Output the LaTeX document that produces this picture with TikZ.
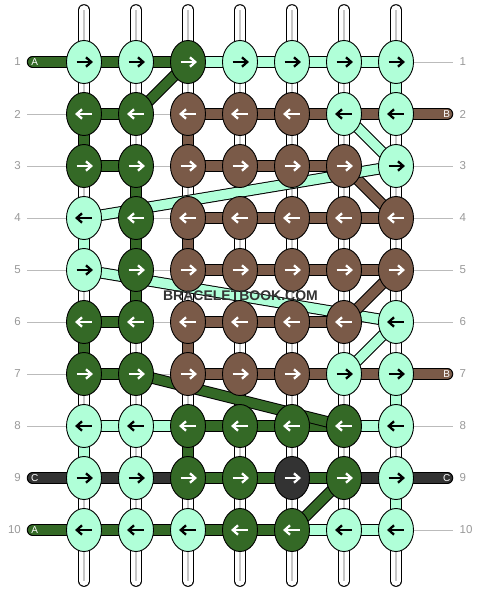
\documentclass[tikz,border=0pt]{standalone}
\usepackage{fontspec}
\setmainfont{Liberation Sans}
\usetikzlibrary{shapes.geometric}
\definecolor{mint}{HTML}{B0FFD8}
\definecolor{dgreen}{HTML}{346926}
\definecolor{brn}{HTML}{7A5A48}
\definecolor{dgray}{HTML}{333333}
\definecolor{lbl}{HTML}{999999}
\definecolor{rowln}{HTML}{BBBBBB}
\pgfdeclarelayer{lines}
\pgfdeclarelayer{warps}
\pgfdeclarelayer{threads}
\pgfsetlayers{lines,warps,threads,main}
\tikzset{
  knot/.style={ellipse, draw=black, line width=0.9pt, minimum width=35pt, minimum height=43pt, inner sep=0pt},
  rarr/.style={path picture={
    \coordinate (pc) at (path picture bounding box.center);
    \draw[#1, line width=2.3pt] ([xshift=-7.5pt]pc) -- ([xshift=6.5pt]pc);
    \draw[#1, line width=2.3pt, line join=miter] ([xshift=2pt,yshift=4.7pt]pc) -- ([xshift=7.2pt]pc) -- ([xshift=2pt,yshift=-4.7pt]pc);}},
  larr/.style={path picture={
    \coordinate (pc) at (path picture bounding box.center);
    \draw[#1, line width=2.3pt] ([xshift=7.5pt]pc) -- ([xshift=-6.5pt]pc);
    \draw[#1, line width=2.3pt, line join=miter] ([xshift=-2pt,yshift=4.7pt]pc) -- ([xshift=-7.2pt]pc) -- ([xshift=-2pt,yshift=-4.7pt]pc);}},
  MR/.style={knot, fill=mint, rarr=black},
  ML/.style={knot, fill=mint, larr=black},
  GR/.style={knot, fill=dgreen, rarr=white},
  GL/.style={knot, fill=dgreen, larr=white},
  BR/.style={knot, fill=brn, rarr=white},
  BL/.style={knot, fill=brn, larr=white},
  KR/.style={knot, fill=dgray, rarr=white},
  KL/.style={knot, fill=dgray, larr=white},
  thr/.style={draw=black, line width=1pt, double=#1, double distance=9.5pt},
  warp/.style={draw=black, line width=1pt, double=white, double distance=9.7pt, line cap=round},
  warpmid/.style={draw=black!22, line width=1.1pt},
  rowline/.style={draw=rowln, line width=1pt},
  rownum/.style={text=lbl, font=\fontsize{11.5}{12}\selectfont, inner sep=0pt},
  endlbl/.style={text=white, font=\fontsize{10}{12}\selectfont, inner sep=0pt},
  wmark/.style={text=dgray, font=\bfseries\fontsize{14}{14}\selectfont, inner sep=0pt}
}
\newcommand\knotrow[2]{%
  \foreach \kk [count=\jj] in {#2} {\node[\kk] (k#1c\jj) at ({84+52*(\jj-1)},{62+52*(#1-1)}) {};}}
\begin{document}
\begin{tikzpicture}[x=1pt,y=-1pt]
\useasboundingbox (0,0) rectangle (480,592);
% knots
\knotrow{1}{MR,MR,GR,MR,MR,MR,MR}
\knotrow{2}{GL,GL,BL,BL,BL,ML,ML}
\knotrow{3}{GR,GR,BR,BR,BR,BR,MR}
\knotrow{4}{ML,GL,BL,BL,BL,BL,BL}
\knotrow{5}{MR,GR,BR,BR,BR,BR,BR}
\knotrow{6}{GL,GL,BL,BL,BL,BL,ML}
\knotrow{7}{GR,GR,BR,BR,BR,MR,MR}
\knotrow{8}{ML,ML,GL,GL,GL,GL,ML}
\knotrow{9}{MR,MR,GR,GR,KR,GR,MR}
\knotrow{10}{ML,ML,ML,GL,GL,ML,ML}
% row numbers
\foreach \ii in {1,...,10} {
  \node[rownum, anchor=east] (ln\ii) at (21,{62+52*(\ii-1)}) {\ii};
  \node[rownum, anchor=west] (rn\ii) at (459.5,{62+52*(\ii-1)}) {\ii};
}
% thread ends
\coordinate (ea1) at (32.5,62);
\coordinate (ec9) at (32.5,478);
\coordinate (ea10) at (32.5,530);
\coordinate (eb2) at (447.5,114);
\coordinate (eb7) at (447.5,374);
\coordinate (ec9r) at (447.5,478);
\node[endlbl] (la1) at (34.8,62) {A};
\node[endlbl] (lc9) at (34.8,478) {C};
\node[endlbl] (la10) at (34.8,530) {A};
\node[endlbl] (rb2) at (446.7,114) {B};
\node[endlbl] (rb7) at (446.7,374) {B};
\node[endlbl] (rc9) at (446.7,478) {C};
% watermark
\node[wmark] (wm) at (240.5,295.5) {BRACELETBOOK.COM};
\begin{pgfonlayer}{lines}
  \fill[white] (0,0) rectangle (480,592);
  \foreach \ii in {1,...,10}
    \draw[rowline] ([xshift=6pt]ln\ii.east) -- ([xshift=-6.5pt]rn\ii.west);
\end{pgfonlayer}
\begin{pgfonlayer}{warps}
  \foreach \jj in {1,...,7} {
    \coordinate (wt\jj) at ({84+52*(\jj-1)},10);
    \coordinate (wb\jj) at ({84+52*(\jj-1)},581);
    \draw[warp] (wt\jj) -- (wb\jj);
    \draw[warpmid] (wt\jj) -- (wb\jj);
  }
\end{pgfonlayer}
\begin{pgfonlayer}{threads}
  % horizontal segments
  \foreach \rr/\jj/\cc in {1/1/dgreen,1/2/dgreen,1/3/mint,1/4/mint,1/5/mint,1/6/mint,
     2/1/dgreen,2/3/brn,2/4/brn,2/5/brn,2/6/brn,
     3/1/dgreen,3/3/brn,3/4/brn,3/5/brn,
     4/3/brn,4/4/brn,4/5/brn,4/6/brn,
     5/3/brn,5/4/brn,5/5/brn,5/6/brn,
     6/1/dgreen,6/3/brn,6/4/brn,6/5/brn,
     7/1/dgreen,7/3/brn,7/4/brn,7/5/brn,7/6/brn,
     8/1/mint,8/2/mint,8/3/dgreen,8/4/dgreen,8/5/dgreen,8/6/mint,
     9/1/dgray,9/2/dgray,9/3/dgreen,9/4/dgreen,9/5/dgreen,9/6/dgray,
     10/1/dgreen,10/2/dgreen,10/3/dgreen,10/4/dgreen,10/5/mint,10/6/mint} {
    \pgfmathtruncatemacro\nn{\jj+1}
    \draw[thr=\cc] (k\rr c\jj.center) -- (k\rr c\nn.center);
  }
  % vertical segments
  \foreach \jj/\rr/\cc in {1/2/dgreen,1/4/mint,1/6/dgreen,1/8/mint,
     2/3/dgreen,2/4/dgreen,2/5/dgreen,
     3/2/brn,3/4/brn,3/6/brn,3/8/dgreen,
     7/1/mint,7/7/mint,7/9/mint} {
    \pgfmathtruncatemacro\nn{\rr+1}
    \draw[thr=\cc] (k\rr c\jj.center) -- (k\nn c\jj.center);
  }
  % thread ends
  \draw[thr=dgreen, line cap=round] (ea1) -- (k1c1.center);
  \draw[thr=dgray, line cap=round] (ec9) -- (k9c1.center);
  \draw[thr=dgreen, line cap=round] (ea10) -- (k10c1.center);
  \draw[thr=brn, line cap=round] (eb2) -- (k2c7.center);
  \draw[thr=brn, line cap=round] (eb7) -- (k7c7.center);
  \draw[thr=dgray, line cap=round] (ec9r) -- (k9c7.center);
  % diagonals
  \draw[thr=dgreen] (k1c3.center) -- (k2c2.center);
  \draw[thr=mint] (k2c6.center) -- (k3c7.center);
  \draw[thr=brn] (k3c6.center) -- (k4c7.center);
  \draw[thr=mint] (k3c7.center) -- (k4c1.center);
  \draw[thr=mint] (k5c1.center) -- (k6c7.center);
  \draw[thr=brn] (k5c7.center) -- (k6c6.center);
  \draw[thr=mint] (k6c7.center) -- (k7c6.center);
  \draw[thr=dgreen] (k7c2.center) -- (k8c6.center);
  \draw[thr=dgreen] (k9c6.center) -- (k10c5.center);
\end{pgfonlayer}
\end{tikzpicture}
\end{document}
